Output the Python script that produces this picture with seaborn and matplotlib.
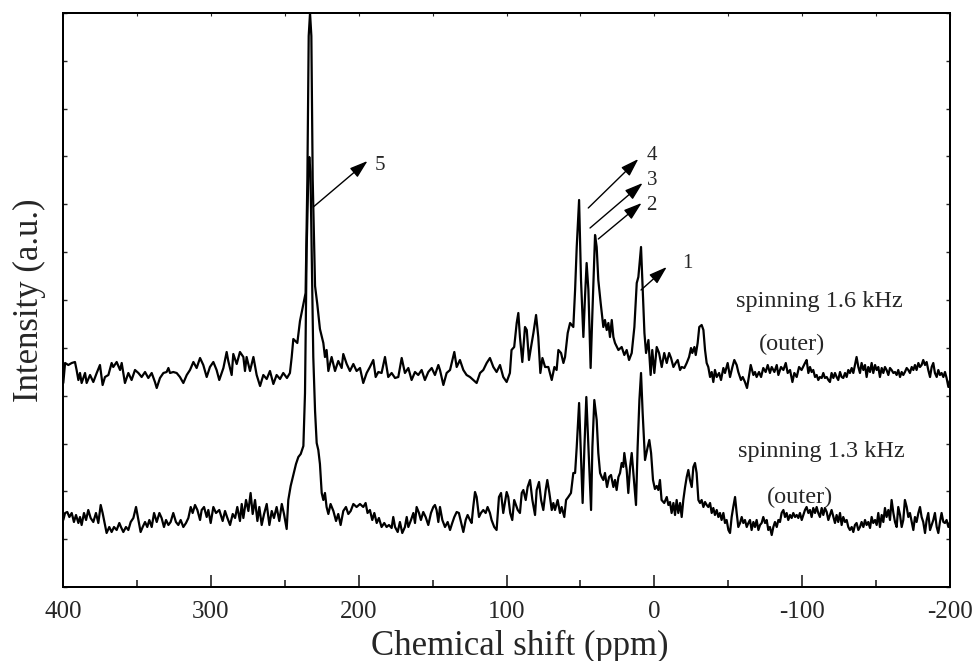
import matplotlib
matplotlib.use("Agg")
import matplotlib.pyplot as plt
from matplotlib.ticker import MultipleLocator, NullFormatter
import pandas as pd
import seaborn as sns

# ------------------------------
# Spectra: (chemical shift in ppm, intensity in a.u.)
# ------------------------------
# spinning 1.6 kHz (outer)
upper_trace = [
    (399.8, 204), (398.6, 224), (396.4, 222), (394.1, 224), (391.9, 225), (390.8, 217), (389.6, 207),
    (388.5, 214), (387.4, 204), (385.1, 214), (384.0, 204), (381.7, 212), (379.5, 205), (377.2, 214),
    (375.0, 222), (373.2, 202), (371.6, 210), (369.3, 212), (367.1, 224), (366.0, 220), (363.7, 225),
    (361.4, 217), (360.3, 224), (358.1, 204), (355.8, 214), (353.6, 207), (351.3, 217), (349.0, 214),
    (346.8, 210), (344.5, 215), (342.3, 209), (340.0, 214), (337.8, 205), (336.6, 199), (334.4, 209),
    (332.1, 214), (329.9, 215), (328.7, 219), (327.6, 214), (325.4, 215), (323.1, 214), (320.9, 210),
    (318.6, 204), (316.3, 212), (314.1, 217), (311.8, 225), (309.6, 219), (307.3, 229), (305.1, 222),
    (302.8, 210), (300.6, 220), (298.3, 225), (296.1, 217), (294.3, 207),
    (291.5, 219), (289.3, 235), (288.2, 226), (285.9, 212), (284.8, 233), (282.5, 223), (280.3, 235),
    (278.0, 230), (276.9, 216), (275.8, 230), (273.5, 216), (271.2, 230), (269.0, 212), (266.7, 201),
    (264.5, 212), (262.2, 208), (260.0, 216), (257.7, 203), (255.5, 212), (253.2, 208), (251.0, 214),
    (248.5, 209), (246.5, 214), (245.3, 230), (244.2, 248), (241.5, 244), (239.7, 266), (237.4, 283),
    (235.9, 294), (234.7, 408), (233.8, 551), (232.9, 574), (232.0, 551), (231.1, 408), (229.5, 301),
    (228.0, 283), (226.2, 258), (223.9, 244), (222.8, 230), (221.7, 237), (220.5, 216), (218.3, 230),
    (216.0, 216), (213.8, 226), (211.5, 219), (210.4, 233), (208.1, 223), (205.9, 216), (203.6, 223),
    (201.4, 216), (199.1, 219),
    (196.9, 204), (194.6, 214), (192.4, 220), (190.1, 227), (188.5, 210), (186.7, 215), (184.5, 214),
    (182.2, 230), (180.0, 210), (177.7, 214), (175.4, 209), (173.2, 210), (170.9, 229), (168.7, 214),
    (166.4, 219), (164.2, 207), (161.9, 215), (159.7, 212), (157.4, 217), (155.2, 207), (152.9, 215),
    (150.6, 219), (148.4, 212), (146.1, 222), (145.0, 217), (142.7, 202), (140.5, 214), (138.2, 217),
    (137.1, 224), (135.3, 235), (133.7, 220), (131.5, 227), (129.2, 217), (127.0, 212), (124.7, 210),
    (122.5, 207), (120.2, 204), (117.9, 214), (115.7, 217), (113.4, 224), (111.2, 229), (108.9, 220),
    (106.7, 215), (104.4, 222), (102.2, 210), (99.9, 205), (97.7, 214), (96.6, 237), (94.8, 240),
    (93.1, 264), (92.0, 274), (90.9, 250), (89.3, 225), (87.5, 260), (86.3, 257), (84.8, 227),
    (83.4, 240), (81.8, 254), (80.0, 272), (78.5, 250), (77.1, 214), (75.7, 229), (73.9, 220),
    (71.7, 220), (69.4, 207), (67.6, 220), (66.1, 217), (64.9, 237), (63.1, 234), (61.5, 224),
    (60.4, 230), (58.6, 254), (57.0, 264), (54.8, 260), (53.6, 297), (52.5, 340), (50.9, 387),
    (49.6, 307), (48.0, 250), (46.9, 290), (45.8, 324), (44.6, 297), (43.1, 219), (41.9, 274),
    (40.1, 352), (39.0, 340), (37.9, 307), (36.3, 284), (34.5, 260), (33.4, 267), (32.2, 257),
    (31.1, 264), (30.0, 250), (28.8, 267), (27.7, 250), (26.6, 244), (24.3, 237), (22.1, 240),
    (20.3, 232), (18.7, 237), (17.1, 227), (15.3, 234), (13.5, 260), (11.9, 304), (10.8, 310),
    (9.0, 340), (7.9, 300), (6.7, 254), (5.6, 234), (4.0, 247), (2.5, 212), (1.4, 237), (0.0, 214),
    (-1.6, 240), (-3.2, 234), (-5.0, 220), (-6.7, 234),
    (-8.4, 224), (-10.0, 234), (-11.3, 229), (-12.9, 220), (-14.4, 224), (-15.8, 227), (-17.4, 217),
    (-18.5, 220), (-20.3, 219), (-21.9, 224), (-23.5, 230), (-24.8, 239), (-25.7, 234), (-27.1, 240),
    (-28.0, 232), (-29.3, 244), (-30.4, 260), (-32.0, 262), (-33.2, 257), (-34.3, 237), (-35.4, 224),
    (-36.5, 220), (-37.7, 210), (-38.8, 215), (-39.9, 205), (-41.0, 217), (-42.2, 210), (-43.8, 214),
    (-45.1, 207), (-46.7, 219), (-47.8, 214), (-49.6, 224), (-51.2, 210), (-52.8, 220), (-54.1, 227),
    (-55.7, 222), (-56.8, 215), (-58.6, 207), (-59.8, 210), (-61.3, 205), (-62.7, 199), (-63.6, 207),
    (-65.2, 222), (-67.0, 212), (-68.1, 215), (-69.2, 210), (-70.8, 215), (-72.2, 210), (-73.7, 219),
    (-75.3, 215), (-76.7, 222), (-78.2, 214), (-79.4, 220), (-81.2, 215), (-82.8, 222), (-83.9, 212),
    (-85.7, 220), (-87.3, 217), (-88.9, 224), (-90.2, 214), (-91.8, 217), (-93.4, 205), (-94.7, 214),
    (-96.3, 210), (-97.9, 220), (-99.6, 217),
    (-101.9, 224), (-103.0, 227), (-104.2, 214), (-105.3, 220), (-106.4, 215), (-107.5, 217),
    (-108.7, 210), (-109.8, 212), (-110.9, 207), (-112.0, 210), (-113.2, 209), (-114.3, 214),
    (-115.4, 209), (-116.6, 210), (-117.7, 207), (-118.8, 205), (-119.9, 214), (-121.1, 209),
    (-122.2, 214), (-123.3, 210), (-124.4, 207), (-125.6, 215), (-126.7, 210), (-127.8, 209),
    (-129.0, 214), (-130.1, 210), (-131.2, 217), (-132.3, 214), (-133.5, 219), (-134.6, 214),
    (-135.7, 222), (-136.8, 230), (-138.0, 220), (-139.1, 214), (-140.2, 224), (-141.4, 217),
    (-142.5, 222), (-143.6, 210), (-144.7, 220), (-145.9, 215), (-147.0, 224), (-148.1, 214),
    (-149.3, 222), (-150.4, 217), (-151.5, 220), (-152.6, 210), (-153.8, 219), (-154.9, 214),
    (-156.0, 220), (-157.1, 217), (-158.3, 212), (-159.4, 219), (-160.5, 217), (-161.7, 214),
    (-162.8, 215), (-163.9, 212), (-165.0, 217), (-166.2, 210), (-167.3, 215), (-168.4, 212),
    (-169.5, 215), (-170.7, 219), (-171.8, 217), (-172.9, 214), (-174.1, 220), (-175.2, 217),
    (-176.3, 222), (-177.4, 217), (-178.6, 224), (-179.7, 220), (-180.8, 222), (-181.9, 227),
    (-183.1, 222), (-184.2, 225), (-185.3, 217), (-186.5, 210), (-187.6, 220), (-188.7, 224),
    (-189.8, 214), (-191.0, 210), (-192.1, 217), (-193.2, 212), (-194.3, 214), (-195.5, 210),
    (-196.6, 215), (-197.7, 209), (-198.9, 200), (-200.0, 207),
]

# spinning 1.3 kHz (outer)
lower_trace = [
    (399.8, 67), (398.6, 74), (397.1, 75), (395.7, 70), (394.1, 74), (392.6, 65), (391.2, 72),
    (389.6, 64), (388.5, 70), (387.4, 62), (385.8, 74), (384.4, 67), (382.9, 77), (381.3, 69),
    (379.5, 65), (377.7, 74), (376.1, 64), (374.5, 82), (373.2, 74), (371.6, 62), (370.5, 54),
    (368.7, 60), (367.1, 55), (365.5, 60), (363.7, 57), (361.9, 64), (360.8, 60), (359.2, 55),
    (357.4, 60), (355.8, 57), (354.2, 65), (352.4, 69), (350.6, 80), (349.0, 67), (347.5, 55),
    (346.1, 60), (344.5, 65), (343.0, 60), (341.6, 67), (340.0, 60), (338.4, 74), (336.6, 65),
    (334.8, 74), (333.3, 69), (331.7, 60), (330.3, 67), (328.7, 62), (327.2, 65), (325.4, 74),
    (323.6, 65), (322.0, 62), (320.4, 67), (318.6, 60), (316.8, 64), (315.2, 69), (313.6, 80),
    (312.3, 74), (310.7, 82), (309.1, 77), (307.3, 67), (306.2, 77), (304.6, 80), (302.8, 70),
    (301.7, 77), (300.1, 64), (298.3, 80), (296.5, 74), (294.3, 77),
    (292.0, 66), (290.4, 76), (288.8, 69), (287.0, 62), (285.2, 73), (283.6, 69), (282.1, 80),
    (280.3, 66), (279.1, 83), (278.0, 69), (276.2, 87), (274.6, 76), (273.1, 94), (271.7, 73),
    (270.1, 87), (268.5, 66), (267.2, 80), (265.6, 62), (264.0, 73), (262.2, 83), (260.4, 62),
    (258.8, 76), (257.3, 69), (255.5, 80), (253.7, 66), (252.0, 83), (250.5, 73), (248.7, 58),
    (247.6, 87), (246.0, 101), (244.2, 112), (242.4, 123), (240.8, 130), (239.2, 133), (237.4, 141),
    (236.3, 194), (235.2, 337), (234.0, 415), (233.4, 430), (232.6, 415), (231.8, 337), (230.7, 230),
    (229.5, 176), (228.4, 144), (227.3, 137), (226.2, 123), (225.0, 94), (223.9, 87), (222.8, 94),
    (221.7, 80), (220.5, 73), (219.0, 83), (217.1, 76), (215.3, 66), (213.8, 73), (212.2, 62),
    (210.4, 76), (208.6, 80), (207.0, 73), (205.4, 76), (203.6, 83), (201.4, 80), (199.1, 83),
    (196.9, 80), (195.3, 84), (194.0, 74), (192.4, 77), (190.8, 67), (189.4, 74), (187.8, 64),
    (186.3, 69), (184.5, 60), (182.7, 64), (181.1, 60), (179.5, 62), (177.7, 59), (176.6, 70),
    (175.4, 60), (173.6, 55), (172.1, 65), (170.5, 54), (168.7, 60), (167.5, 70), (166.4, 60),
    (164.6, 67), (163.0, 74), (161.9, 64), (160.8, 80), (159.2, 74), (157.9, 67), (156.3, 75),
    (154.7, 70), (152.9, 62), (151.1, 74), (149.5, 80), (148.4, 82), (147.3, 77), (146.1, 65),
    (145.0, 80), (143.4, 67), (141.6, 60), (139.8, 65), (138.2, 57), (136.7, 64), (135.3, 70),
    (133.7, 75), (132.2, 74), (130.8, 65), (129.2, 55), (127.6, 67), (126.3, 72), (124.7, 67),
    (123.6, 64), (122.5, 80), (121.3, 95), (120.2, 90), (118.6, 70), (117.3, 74), (115.7, 77),
    (114.1, 74), (112.8, 80), (111.2, 74), (110.1, 67), (108.3, 60), (106.7, 57), (105.1, 90),
    (103.7, 94), (102.2, 74), (101.1, 84), (99.9, 95), (98.8, 90), (97.5, 74), (96.1, 67), (94.8, 87),
    (92.4, 77), (90.9, 74), (89.7, 94), (88.6, 97), (87.0, 87), (85.7, 100), (84.1, 107), (82.5, 87),
    (80.7, 72), (79.6, 97), (78.0, 105), (76.6, 87), (75.1, 77), (73.5, 97), (72.4, 107), (71.0, 94),
    (69.4, 77), (68.3, 84), (67.2, 77), (65.4, 87), (63.8, 74), (62.7, 80), (60.9, 70), (59.7, 87),
    (58.2, 90), (56.4, 94), (54.8, 114), (53.6, 114), (52.5, 140), (50.9, 184), (49.6, 130),
    (48.5, 84), (47.3, 140), (46.0, 190), (44.6, 140), (42.8, 77), (41.9, 140), (40.6, 187),
    (39.0, 167), (37.9, 134), (36.7, 114), (35.6, 110), (34.5, 107), (33.4, 114), (32.0, 100),
    (30.6, 110), (29.3, 112), (27.7, 100), (26.6, 107), (25.5, 97), (24.3, 110), (23.2, 114),
    (22.1, 124), (21.0, 120), (20.3, 134), (18.7, 117), (17.6, 94), (16.4, 120), (15.3, 134),
    (14.2, 114), (12.4, 82), (11.3, 140), (10.1, 187), (9.0, 214), (7.9, 174), (6.3, 127),
    (4.5, 140), (3.4, 147), (2.2, 134), (0.9, 107), (-0.4, 98), (-1.6, 101), (-2.7, 97),
    (-3.8, 107), (-4.9, 87), (-6.7, 84),
    (-8.4, 90), (-9.5, 82), (-10.6, 85), (-11.7, 74), (-12.9, 84), (-14.0, 72), (-15.1, 87),
    (-16.2, 74), (-17.4, 84), (-18.5, 70), (-19.6, 87), (-20.8, 100), (-21.9, 110), (-23.0, 117),
    (-24.1, 107), (-25.3, 100), (-26.4, 120), (-27.5, 124), (-28.6, 114), (-29.8, 87), (-30.9, 84),
    (-32.0, 87), (-33.2, 80), (-34.3, 85), (-35.4, 82), (-36.5, 80), (-37.7, 84), (-38.8, 74),
    (-39.9, 79), (-41.0, 72), (-42.2, 77), (-43.3, 70), (-44.4, 74), (-45.5, 67), (-46.7, 74),
    (-47.8, 64), (-48.9, 67), (-50.1, 57), (-51.2, 54), (-52.3, 70), (-53.4, 80), (-54.6, 90),
    (-55.7, 74), (-56.8, 60), (-58.0, 64), (-59.1, 70), (-60.2, 64), (-61.3, 67), (-62.5, 60),
    (-63.6, 64), (-64.7, 67), (-65.8, 57), (-67.0, 65), (-68.1, 60), (-69.2, 67), (-70.4, 57),
    (-71.5, 62), (-72.6, 64), (-73.7, 70), (-74.9, 64), (-76.0, 67), (-77.1, 57), (-78.2, 60),
    (-79.4, 52), (-80.5, 60), (-81.6, 65), (-82.8, 60), (-83.9, 67), (-85.0, 65), (-86.1, 74),
    (-87.3, 77), (-88.4, 70), (-89.5, 74), (-90.6, 67), (-91.8, 72), (-92.9, 69), (-94.0, 74),
    (-95.2, 70), (-96.3, 72), (-97.4, 69), (-98.5, 74), (-99.7, 67),
    (-101.9, 77), (-103.0, 80), (-104.2, 74), (-105.3, 77), (-106.4, 70), (-107.5, 79),
    (-108.7, 74), (-109.8, 80), (-110.9, 74), (-112.0, 70), (-113.2, 79), (-114.3, 72),
    (-115.4, 79), (-116.6, 75), (-117.7, 67), (-118.8, 72), (-119.9, 77), (-121.1, 70),
    (-122.2, 64), (-123.3, 72), (-124.4, 65), (-125.6, 74), (-126.7, 62), (-127.8, 70),
    (-129.0, 65), (-130.1, 67), (-131.2, 60), (-132.3, 57), (-133.5, 60), (-134.6, 55),
    (-135.7, 62), (-136.8, 64), (-138.0, 57), (-139.1, 60), (-140.2, 65), (-141.4, 60),
    (-142.5, 67), (-143.6, 62), (-144.7, 65), (-145.9, 59), (-147.0, 70), (-148.1, 64),
    (-149.3, 67), (-150.4, 62), (-151.5, 74), (-152.6, 60), (-153.8, 72), (-154.9, 65),
    (-156.0, 79), (-157.1, 70), (-158.3, 77), (-159.4, 67), (-160.5, 87), (-161.7, 74),
    (-162.8, 65), (-163.9, 60), (-165.0, 80), (-166.2, 72), (-167.3, 60), (-168.4, 67),
    (-169.5, 87), (-170.7, 80), (-171.8, 70), (-172.9, 74), (-174.1, 65), (-175.2, 57),
    (-176.3, 70), (-177.4, 65), (-178.6, 74), (-179.7, 80), (-180.8, 70), (-181.9, 65),
    (-183.1, 54), (-184.2, 67), (-185.3, 74), (-186.5, 57), (-187.6, 62), (-188.7, 67),
    (-189.8, 74), (-191.0, 60), (-192.1, 54), (-193.2, 65), (-194.3, 74), (-195.5, 65),
    (-196.6, 64), (-197.7, 67), (-198.9, 60), (-200.0, 65),
]

# peak labels: (label, arrow tail, arrow tip, text anchor)
peak_labels = [
    ("5", (230.7, 380), (194.0, 426), (188.9, 417)),
    ("4", (44.7, 379), (10.8, 428), (5.0, 427)),
    ("3", (43.5, 359), (7.9, 404), (5.0, 402)),
    ("2", (37.9, 348), (8.6, 384), (5.6, 377)),
    ("1", (9.0, 297), (-8.4, 320), (-18.7, 319)),
]

# condition labels: (text, ppm, intensity)
condition_labels = [
    ("spinning 1.6 kHz", -111.4, 286),
    ("(outer)", -93.1, 243),
    ("spinning 1.3 kHz", -112.7, 135),
    ("(outer)", -98.5, 90),
]

df_upper = pd.DataFrame(upper_trace, columns=["ppm", "intensity"])
df_lower = pd.DataFrame(lower_trace, columns=["ppm", "intensity"])

sns.set_style("ticks")
plt.rcParams["font.family"] = ["Liberation Serif", "DejaVu Serif"]
plt.rcParams["axes.unicode_minus"] = False

fig = plt.figure(figsize=(9.74, 6.61), dpi=100)
ax = fig.add_axes([63 / 974, 1 - 587 / 661, (950 - 63) / 974, (587 - 13) / 661])

for df in (df_upper, df_lower):
    sns.lineplot(data=df, x="ppm", y="intensity", estimator=None, sort=False,
                 color="black", linewidth=1.6, ax=ax)

ax.set_xlim(400, -200)
ax.set_ylim(0, 574)

# x ticks: labelled every 100 ppm, minor every 50, pointing in
ax.xaxis.set_major_locator(MultipleLocator(100))
ax.xaxis.set_minor_locator(MultipleLocator(50))
ax.tick_params(axis="x", which="major", direction="in", length=9, width=1.2,
               labelsize=18, pad=10, top=False)
ax.tick_params(axis="x", which="minor", direction="in", length=5, width=1.2, top=False)

# y: small unlabelled ticks on both sides
ax.yaxis.set_major_locator(MultipleLocator(574 / 12))
ax.yaxis.set_major_formatter(NullFormatter())
ax.tick_params(axis="y", which="major", direction="in", length=3, width=1.0,
               left=True, right=True, labelleft=False)

# tiny ticks along the top frame
ax_top = ax.twiny()
ax_top.set_xlim(ax.get_xlim())
ax_top.xaxis.set_major_locator(MultipleLocator(50))
ax_top.tick_params(axis="x", direction="in", length=2, width=0.8, labeltop=False)
ax_top.grid(False)

for a in (ax, ax_top):
    for spine in a.spines.values():
        spine.set_linewidth(1.4)
        spine.set_color("black")

ax.set_xlabel("Chemical shift (ppm)", fontsize=25, labelpad=5)
ax.xaxis.label.set_x((520 - 63) / 887)
ax.set_ylabel("Intensity (a.u.)", fontsize=25, labelpad=12)

for label, tail, tip, anchor in peak_labels:
    ax.annotate("", xy=tip, xytext=tail,
                arrowprops=dict(arrowstyle="-|>,head_length=0.55,head_width=0.18",
                                color="black", lw=1.0, shrinkA=0, shrinkB=0,
                                mutation_scale=20))
    ax.text(anchor[0], anchor[1], label, ha="left", va="baseline", fontsize=15)

for text, x, y in condition_labels:
    ax.text(x, y, text, ha="center", va="center", fontsize=17.5)

fig.savefig("out.png", dpi=100)
